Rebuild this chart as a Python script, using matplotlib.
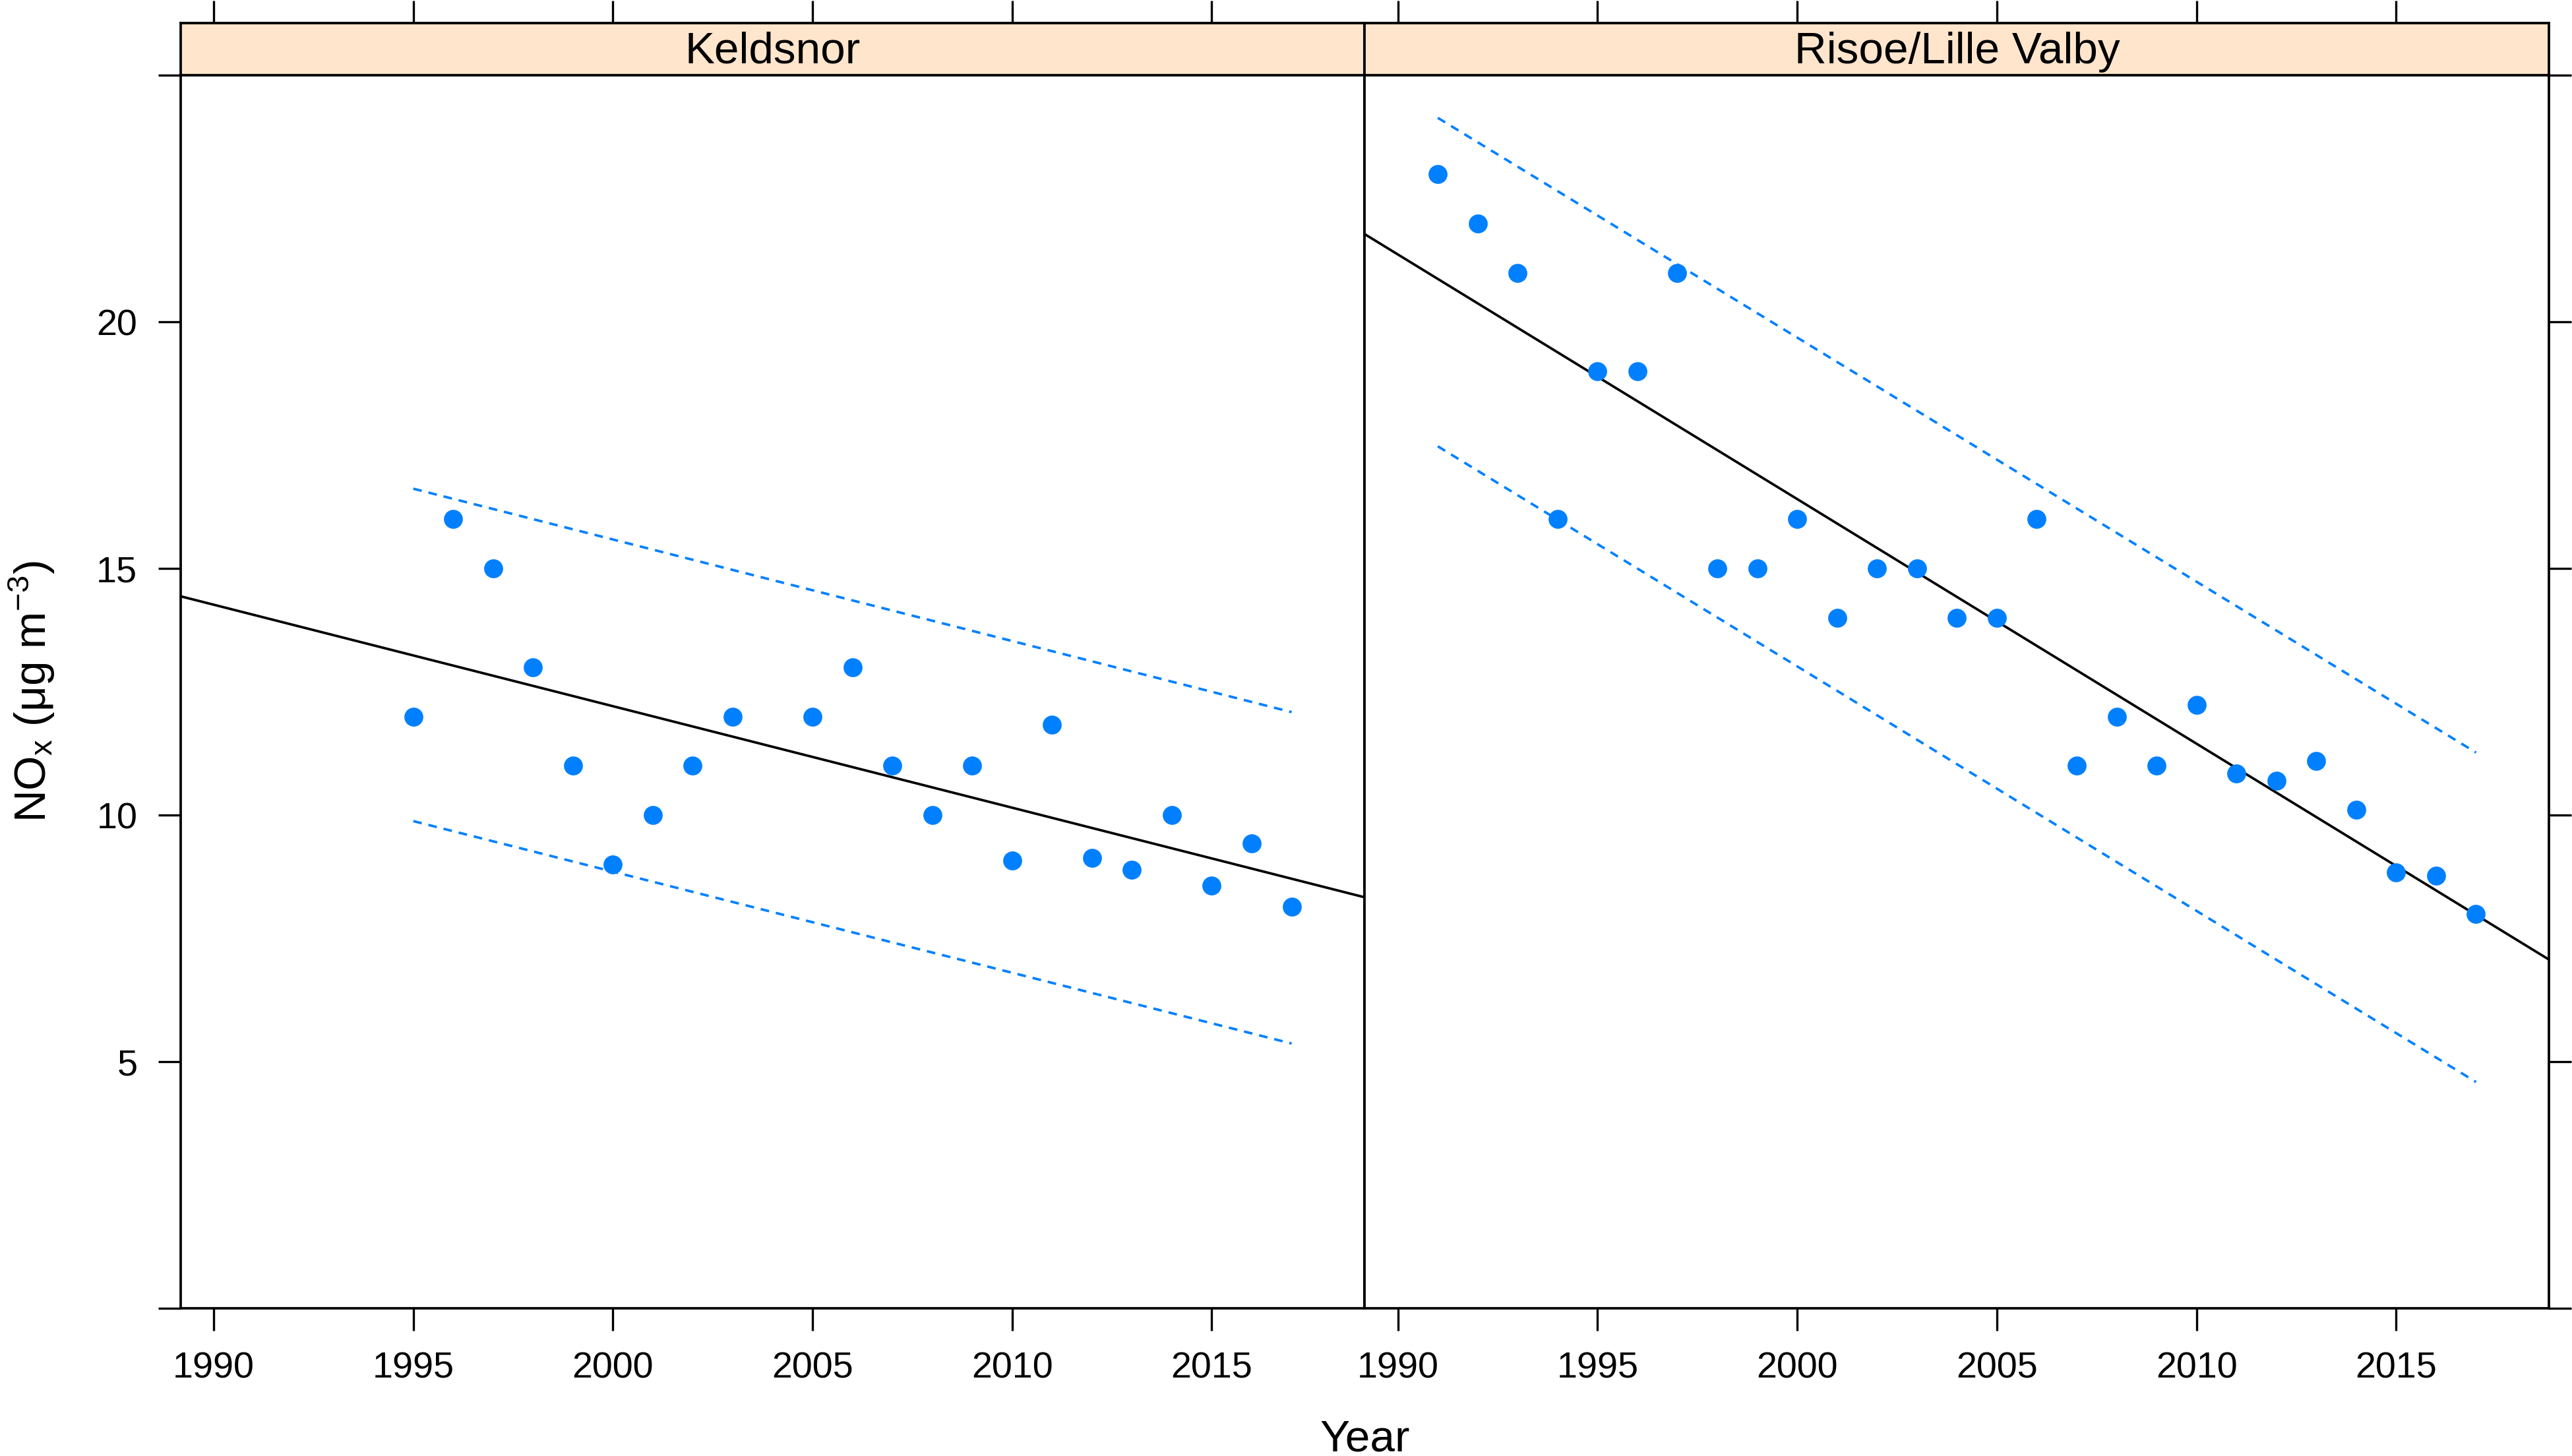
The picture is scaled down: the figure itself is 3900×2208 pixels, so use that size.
import matplotlib
matplotlib.use("Agg")
import matplotlib.pyplot as plt
import numpy as np

plt.rcParams['font.family'] = ['Liberation Sans', 'DejaVu Sans']
plt.rcParams['mathtext.fontset'] = 'custom'
plt.rcParams['mathtext.rm'] = 'Liberation Sans'
plt.rcParams['mathtext.it'] = 'Liberation Sans'

# --- data ---
sites = ['Keldsnor', 'Risoe/Lille Valby']

keld_years = [1995, 1996, 1997, 1998, 1999, 2000, 2001, 2002, 2003, 2005, 2006,
              2007, 2008, 2009, 2010, 2011, 2012, 2013, 2014, 2015, 2016, 2017]
keld_nox = [12, 16, 15, 13, 11, 9, 10, 11, 12, 12, 13,
            11, 10, 11, 9.08, 11.84, 9.13, 8.89, 10, 8.57, 9.43, 8.15]

risoe_years = list(range(1991, 2018))
risoe_nox = [23, 22, 21, 16, 19, 19, 21, 15, 15, 16, 14, 15, 15, 14, 14, 16,
             11, 12, 11, 12.24, 10.84, 10.70, 11.10, 10.11, 8.84, 8.77, 8.0]

# trend: value at 2000 and slope per year
trend_at_2000 = [12.21, 16.41]
trend_slope = [-0.2058, -0.496]

# dashed band end points
band_years = [[1995, 2017], [1991, 2017]]
band_upper = [[16.62, 12.09], [24.14, 11.27]]
band_lower = [[9.88, 5.37], [17.48, 4.59]]

xlim = (1989.17, 2018.83)
ylim = (0, 25)
xticks = [1990, 1995, 2000, 2005, 2010, 2015]
yticks = [0, 5, 10, 15, 20, 25]
ylabels = ['', '5', '10', '15', '20', '']

blue = '#0080FF'
fs = 13.4     # tick labels
fs_big = 16.2  # strip and axis titles

fig = plt.figure(figsize=(13, 7.36), dpi=300)

x0, x1, x2 = 0.0702, 0.5306, 0.9911
bot, top, stop = 0.1014, 0.9482, 0.9842

panels = [(x0, x1), (x1, x2)]
all_years = [keld_years, risoe_years]
all_nox = [keld_nox, risoe_nox]

for i, (a, b) in enumerate(panels):
    ax = fig.add_axes([a, bot, b - a, top - bot])
    ax.plot(all_years[i], all_nox[i], 'o', color=blue, ms=6.9, mec='none', zorder=3)

    xs = np.array(xlim)
    ax.plot(xs, trend_at_2000[i] + trend_slope[i] * (xs - 2000), color='black', lw=0.9)
    ax.plot(band_years[i], band_upper[i], color=blue, lw=0.9, dashes=(3.5, 2.8))
    ax.plot(band_years[i], band_lower[i], color=blue, lw=0.9, dashes=(3.5, 2.8))

    ax.set_xlim(xlim)
    ax.set_ylim(ylim)
    ax.set_xticks(xticks)
    ax.set_xticklabels([str(t) for t in xticks], fontsize=fs)
    ax.set_yticks(yticks)
    if i == 0:
        ax.set_yticklabels(ylabels, fontsize=fs)
        ax.tick_params(axis='y', left=True, right=False, labelleft=True)
    else:
        ax.tick_params(axis='y', left=False, right=True, labelleft=False)
    ax.tick_params(direction='out', length=8.2, width=0.8, pad=7.5)
    ax.tick_params(axis='x', top=False)
    for s in ax.spines.values():
        s.set_linewidth(0.9)

    # strip on top
    sx = fig.add_axes([a, top, b - a, stop - top])
    sx.set_facecolor('#FFE5CC')
    sx.set_xlim(xlim)
    sx.set_ylim(0, 1)
    sx.set_xticks(xticks)
    sx.set_yticks([])
    sx.tick_params(axis='x', bottom=False, labelbottom=False, top=True,
                   direction='out', length=8.2, width=0.8)
    for s in sx.spines.values():
        s.set_linewidth(0.9)
    sx.text(0.5, 0.45, sites[i], transform=sx.transAxes, ha='center', va='center',
            fontsize=fs_big)

fig.text(0.0125, (bot + top) / 2, r'NO$_\mathregular{x}$ ($\mathregular{\mu}$g m$^{\mathregular{-3}}$)',
         rotation=90, ha='center', va='center', fontsize=fs_big)
fig.text(0.5306, 0.011, 'Year', ha='center', va='center', fontsize=fs_big)

fig.savefig('out.png', dpi=300)
